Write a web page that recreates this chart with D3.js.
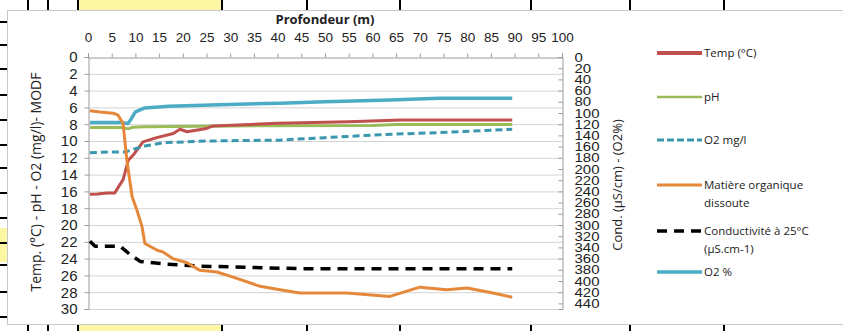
<!DOCTYPE html>
<html>
<head>
<meta charset="utf-8">
<script src="https://cdn.jsdelivr.net/npm/d3@7"></script>
<style>
  body { margin: 0; background: #fff; }
  svg { display: block; font-family: "Open Sans", "Noto Sans", sans-serif; }
</style>
</head>
<body>
<div id="chart"></div>
<script>
// data (depth in m)
var depthTemp = [0.4, 2, 4, 5.6, 7.4, 8.5, 9.5, 11.6, 14.5, 18, 19.4, 20.9, 25, 26.4, 40, 55, 66, 89.5];
var temp = [16.35, 16.3, 16.2, 16.2, 14.6, 12.3, 11.7, 10.1, 9.6, 9.1, 8.6, 8.9, 8.5, 8.2, 7.9, 7.7, 7.5, 7.5];

var depthPh = [0.4, 7, 8.5, 9.5, 12, 30, 60, 65, 89.5];
var ph = [8.4, 8.4, 8.55, 8.35, 8.3, 8.2, 8.15, 8.05, 8.05];

var depthO2 = [0.4, 5, 8, 9.5, 12, 16, 25, 40, 50, 61.6, 74, 89.5];
var o2mg = [11.4, 11.3, 11.3, 11.0, 10.6, 10.2, 10.0, 9.9, 9.6, 9.25, 9.0, 8.6];

var depthModf = [0.4, 2.5, 5.3, 6.3, 7.4, 8.2, 9.3, 10.3, 11.4, 12, 14.6, 15.8, 17.9, 20.9, 23.6, 27.2, 30.6, 36.3, 40.5, 44.7, 54.6, 63.7, 70, 75.7, 80, 85.4, 89.5];
var modf = [6.4, 6.55, 6.7, 6.9, 7.9, 12.3, 16.6, 18.2, 20.2, 22.2, 23, 23.2, 24, 24.5, 25.4, 25.6, 26.2, 27.3, 27.7, 28.1, 28.1, 28.5, 27.4, 27.7, 27.5, 28.1, 28.6];

var depthCond = [0.4, 1.5, 6.8, 8.9, 11, 16.6, 23.6, 45, 89.5];
var cond = [329, 338, 338, 353, 365, 370, 373.5, 378, 378];

var depthO2pct = [0.4, 7, 8.4, 9, 10, 12, 17, 26, 40.5, 50, 63.7, 74, 89.5];
var o2pct = [117, 117, 119, 112, 98, 91, 88, 85.5, 82.5, 80, 76.6, 73.6, 73.6];

var xTicks = d3.range(0, 101, 5);
var leftTicks = d3.range(0, 31, 2);
var rightTicks = d3.range(0, 441, 20);

var width = 843, height = 331;

var svg = d3.select("#chart").append("svg")
    .attr("width", width)
    .attr("height", height);

// spreadsheet bits around the chart
svg.append("rect").attr("x", 78).attr("y", 0).attr("width", 144).attr("height", 10).attr("fill", "#fdf6a3");
svg.append("rect").attr("x", 78).attr("y", 325).attr("width", 144).attr("height", 6).attr("fill", "#fdf6a3");
svg.append("rect").attr("x", 0).attr("y", 228).attr("width", 7).attr("height", 34).attr("fill", "#fdf6a3");
[28, 48, 78, 222, 307, 400, 531, 630, 724].forEach(function(x) {
    svg.append("line").attr("x1", x).attr("x2", x).attr("y1", 0).attr("y2", 10)
        .attr("stroke", "#000").attr("stroke-width", 2);
    svg.append("line").attr("x1", x).attr("x2", x).attr("y1", 325).attr("y2", 331)
        .attr("stroke", "#000").attr("stroke-width", 2);
});
[22, 45, 69, 95, 120, 145, 168, 193, 218, 243, 265, 292, 317].forEach(function(y) {
    svg.append("line").attr("x1", 0).attr("x2", 7).attr("y1", y).attr("y2", y)
        .attr("stroke", "#000").attr("stroke-width", 2);
});

// chart area
svg.append("rect")
    .attr("x", 7.5).attr("y", 10.5)
    .attr("width", 850).attr("height", 314)
    .attr("fill", "#fff")
    .attr("stroke", "#c8c8c8");

var x = d3.scaleLinear().domain([0, 100]).range([88, 562]);
var yLeft = d3.scaleLinear().domain([0, 30]).range([57, 309]);
var yRight = d3.scaleLinear().domain([0, 450]).range([57, 309]);

// horizontal gridlines
svg.append("g")
    .selectAll("line")
    .data(leftTicks.slice(1))
    .enter().append("line")
    .attr("x1", 88).attr("x2", 562)
    .attr("y1", function(d) { return yLeft(d) + 0.5; })
    .attr("y2", function(d) { return yLeft(d) + 0.5; })
    .attr("stroke", "#d4d4d4");

// top axis
var topAxis = svg.append("g")
    .attr("transform", "translate(0," + (yLeft(0) + 0.5) + ")")
    .call(d3.axisTop(x).tickValues(xTicks).tickSize(4).tickPadding(12));
topAxis.select(".domain").attr("stroke", "#9a9a9a");
topAxis.selectAll(".tick line").attr("stroke", "#9a9a9a");
topAxis.selectAll("text").attr("font-size", 13.5).attr("fill", "#222");

// left axis
var leftAxis = svg.append("g")
    .attr("transform", "translate(" + (x(0) + 0.5) + ",0)")
    .call(d3.axisLeft(yLeft).tickValues(leftTicks).tickSize(4).tickPadding(7));
leftAxis.select(".domain").attr("stroke", "#9a9a9a");
leftAxis.selectAll(".tick line").attr("stroke", "#9a9a9a");
leftAxis.selectAll("text").attr("font-size", 15).attr("fill", "#222");

// right axis, labels packed tightly like the original
var rightAxis = svg.append("g")
    .attr("transform", "translate(" + (x(100) + 0.5) + ",0)")
    .call(d3.axisRight(yRight).tickValues(rightTicks).tickSize(-4).tickPadding(12));
rightAxis.select(".domain").attr("stroke", "#9a9a9a");
rightAxis.selectAll(".tick line").attr("stroke", "#9a9a9a");
rightAxis.selectAll("text").attr("font-size", 15).attr("fill", "#222")
    .attr("transform", "scale(1,0.85)");

// titles
svg.append("text")
    .attr("x", 325).attr("y", 24)
    .attr("text-anchor", "middle")
    .attr("font-size", 13).attr("font-weight", "bold")
    .attr("fill", "#222")
    .text("Profondeur (m)");

svg.append("text")
    .attr("transform", "translate(41,182) rotate(-90)")
    .attr("text-anchor", "middle")
    .attr("font-size", 14).attr("fill", "#222")
    .text("Temp. (°C) - pH - O2 (mg/l)- MODF");

svg.append("text")
    .attr("transform", "translate(622,185) rotate(-90)")
    .attr("text-anchor", "middle")
    .attr("font-size", 13).attr("fill", "#222")
    .text("Cond. (µS/cm) - (O2%)");

// series
function drawLine(xs, ys, yScale, color, w, dash) {
    var pts = xs.map(function(d, i) { return [d, ys[i]]; });
    var line = d3.line()
        .x(function(d) { return x(d[0]); })
        .y(function(d) { return yScale(d[1]); });
    svg.append("path")
        .datum(pts)
        .attr("fill", "none")
        .attr("stroke", color)
        .attr("stroke-width", w)
        .attr("stroke-linejoin", "round")
        .attr("stroke-dasharray", dash || null)
        .attr("d", line);
}

var colTemp = "#c0504d", colPh = "#9bbb59", colO2 = "#3a97ad",
    colModf = "#e6883a", colCond = "#000", colO2pct = "#4bacc6";

drawLine(depthO2pct, o2pct, yRight, colO2pct, 3.5);
drawLine(depthPh, ph, yLeft, colPh, 3);
drawLine(depthTemp, temp, yLeft, colTemp, 3);
drawLine(depthO2, o2mg, yLeft, colO2, 3, "7,4");
drawLine(depthCond, cond, yRight, colCond, 3.5, "10,7");
drawLine(depthModf, modf, yLeft, colModf, 3);

// legend
var legend = [
    { label: ["Temp (°C)"], color: colTemp, w: 4, dash: null, y: 53 },
    { label: ["pH"], color: colPh, w: 2.5, dash: null, y: 97 },
    { label: ["O2  mg/l"], color: colO2, w: 3, dash: "7,3", y: 140 },
    { label: ["Matière organique", "dissoute"], color: colModf, w: 3, dash: null, y: 185 },
    { label: ["Conductivité à 25°C", "(µS.cm-1)"], color: colCond, w: 3.5, dash: "10,7", y: 231 },
    { label: ["O2 %"], color: colO2pct, w: 3.5, dash: null, y: 272 }
];

legend.forEach(function(d) {
    svg.append("line")
        .attr("x1", 657).attr("x2", 702)
        .attr("y1", d.y).attr("y2", d.y)
        .attr("stroke", d.color)
        .attr("stroke-width", d.w)
        .attr("stroke-dasharray", d.dash);
    d.label.forEach(function(t, i) {
        svg.append("text")
            .attr("x", 704).attr("y", d.y + 4 + i * 18)
            .attr("font-size", 11.5).attr("fill", "#222")
            .text(t);
    });
});
</script>
</body>
</html>
